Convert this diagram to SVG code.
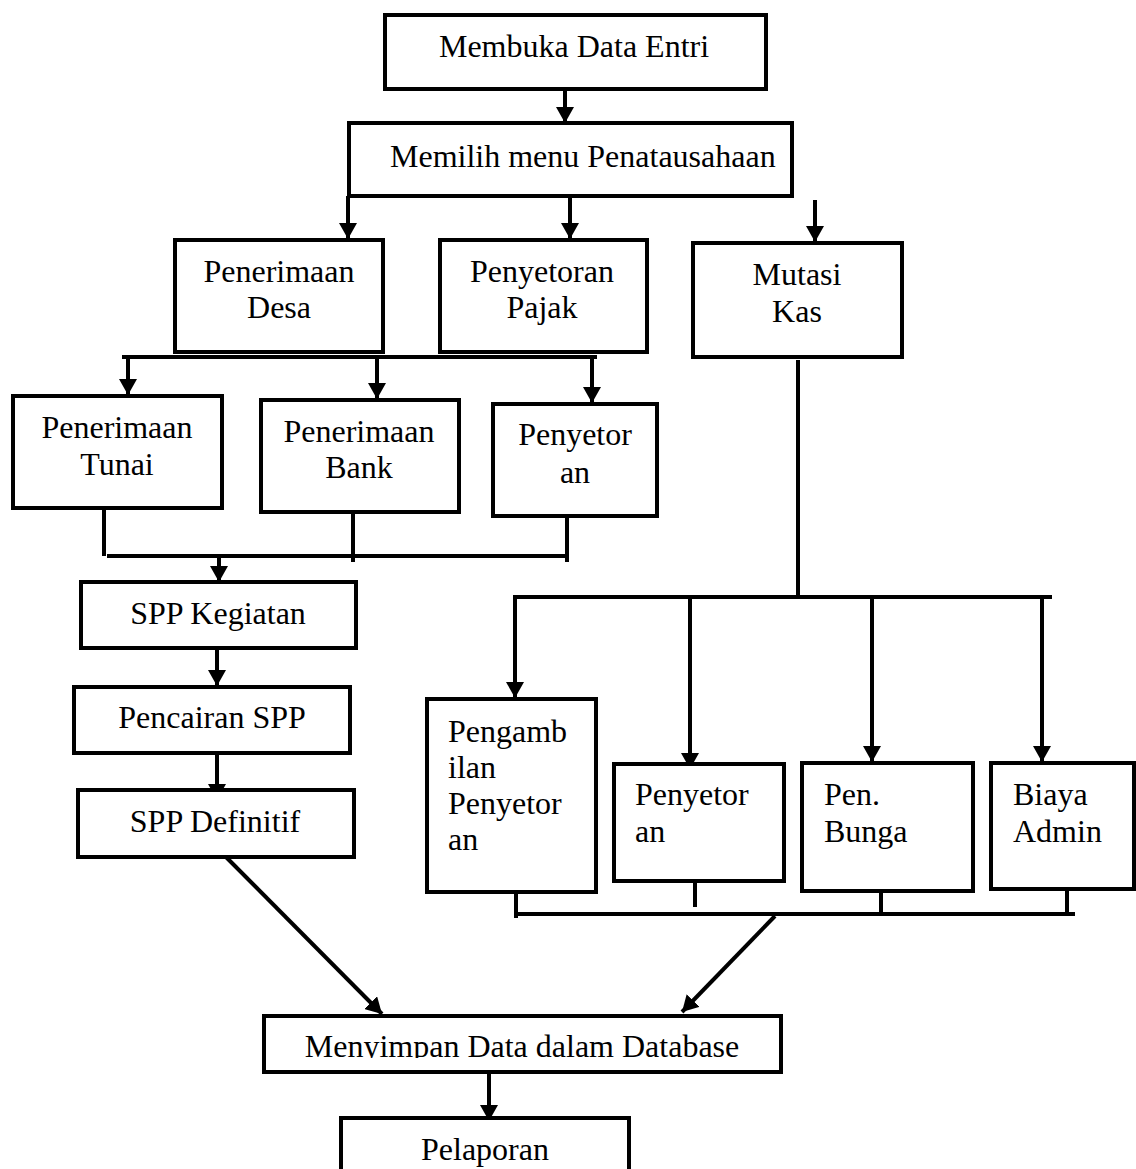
<svg xmlns="http://www.w3.org/2000/svg" width="1136" height="1169" viewBox="0 0 1136 1169">
<style>
.box{fill:#fff;stroke:#000;stroke-width:4}
.t{font-family:"Liberation Serif","Times New Roman",serif;font-size:32px;fill:#000}
.c{text-anchor:middle}
.ln{fill:none;stroke:#000;stroke-width:4}
</style>
<defs>
<marker id="ah" markerUnits="userSpaceOnUse" markerWidth="18" markerHeight="18" refX="16" refY="9" orient="auto" viewBox="0 0 18 18">
<path d="M0,0 L16,9 L0,18 z" fill="#000"/>
</marker>
<clipPath id="clipdb"><rect x="264" y="1016" width="517" height="42"/></clipPath>
</defs>
<rect width="1136" height="1169" fill="#fff"/>

<g id="connectors">
<line class="ln" x1="565" y1="89" x2="565" y2="123" marker-end="url(#ah)"/>
<line class="ln" x1="348" y1="196" x2="348" y2="239" marker-end="url(#ah)"/>
<line class="ln" x1="570" y1="196" x2="570" y2="239" marker-end="url(#ah)"/>
<line class="ln" x1="815" y1="200" x2="815" y2="242" marker-end="url(#ah)"/>
<polyline class="ln" points="122,357 597,357"/>
<line class="ln" x1="128" y1="357" x2="128" y2="395" marker-end="url(#ah)"/>
<line class="ln" x1="377" y1="357" x2="377" y2="399" marker-end="url(#ah)"/>
<line class="ln" x1="592" y1="357" x2="592" y2="403" marker-end="url(#ah)"/>
<line class="ln" x1="104" y1="508" x2="104" y2="556"/>
<line class="ln" x1="353" y1="512" x2="353" y2="562"/>
<line class="ln" x1="567" y1="516" x2="567" y2="562"/>
<line class="ln" x1="107" y1="556" x2="567" y2="556"/>
<line class="ln" x1="219" y1="556" x2="219" y2="582" marker-end="url(#ah)"/>
<line class="ln" x1="217" y1="640" x2="217" y2="686" marker-end="url(#ah)"/>
<line class="ln" x1="217" y1="753" x2="217" y2="800" marker-end="url(#ah)"/>
<line class="ln" x1="224" y1="855" x2="382" y2="1014" marker-end="url(#ah)"/>
<line class="ln" x1="798" y1="360" x2="798" y2="597"/>
<line class="ln" x1="513" y1="597" x2="1052" y2="597"/>
<line class="ln" x1="515" y1="597" x2="515" y2="698" marker-end="url(#ah)"/>
<line class="ln" x1="690" y1="597" x2="690" y2="769" marker-end="url(#ah)"/>
<line class="ln" x1="872" y1="597" x2="872" y2="762" marker-end="url(#ah)"/>
<line class="ln" x1="1042" y1="597" x2="1042" y2="762" marker-end="url(#ah)"/>
<line class="ln" x1="516" y1="892" x2="516" y2="918"/>
<line class="ln" x1="695" y1="874" x2="695" y2="907"/>
<line class="ln" x1="881" y1="891" x2="881" y2="914"/>
<line class="ln" x1="1067" y1="889" x2="1067" y2="914"/>
<line class="ln" x1="516" y1="914" x2="1075" y2="914"/>
<line class="ln" x1="775" y1="916" x2="682" y2="1012" marker-end="url(#ah)"/>
<line class="ln" x1="489" y1="1072" x2="489" y2="1121" marker-end="url(#ah)"/>
</g>

<g id="n-membuka">
<rect class="box" x="385" y="15" width="381" height="74"/>
<text class="t c" x="574" y="57">Membuka Data Entri</text>
</g>
<g id="n-memilih">
<rect class="box" x="349" y="123" width="443" height="73"/>
<text class="t" x="390" y="167">Memilih menu Penatausahaan</text>
</g>
<g id="n-penerimaan-desa">
<rect class="box" x="175" y="240" width="208" height="112"/>
<text class="t c" x="279" y="282">Penerimaan</text>
<text class="t c" x="279" y="318">Desa</text>
</g>
<g id="n-penyetoran-pajak">
<rect class="box" x="440" y="240" width="207" height="112"/>
<text class="t c" x="542" y="282">Penyetoran</text>
<text class="t c" x="542" y="318">Pajak</text>
</g>
<g id="n-mutasi-kas">
<rect class="box" x="693" y="243" width="209" height="114"/>
<text class="t c" x="797" y="285">Mutasi</text>
<text class="t c" x="797" y="322">Kas</text>
</g>
<g id="n-penerimaan-tunai">
<rect class="box" x="13" y="396" width="209" height="112"/>
<text class="t c" x="117" y="438">Penerimaan</text>
<text class="t c" x="117" y="475">Tunai</text>
</g>
<g id="n-penerimaan-bank">
<rect class="box" x="261" y="400" width="198" height="112"/>
<text class="t c" x="359" y="442">Penerimaan</text>
<text class="t c" x="359" y="478">Bank</text>
</g>
<g id="n-penyetoran-1">
<rect class="box" x="493" y="404" width="164" height="112"/>
<text class="t c" x="575" y="445">Penyetor</text>
<text class="t c" x="575" y="483">an</text>
</g>
<g id="n-spp-kegiatan">
<rect class="box" x="81" y="582" width="275" height="66"/>
<text class="t c" x="218" y="624">SPP Kegiatan</text>
</g>
<g id="n-pencairan-spp">
<rect class="box" x="74" y="687" width="276" height="66"/>
<text class="t c" x="212" y="728">Pencairan SPP</text>
</g>
<g id="n-spp-definitif">
<rect class="box" x="78" y="790" width="276" height="67"/>
<text class="t c" x="215" y="832">SPP Definitif</text>
</g>
<g id="n-pengambilan">
<rect class="box" x="427" y="699" width="169" height="193"/>
<text class="t" x="448" y="742">Pengamb</text>
<text class="t" x="448" y="778">ilan</text>
<text class="t" x="448" y="814">Penyetor</text>
<text class="t" x="448" y="850">an</text>
</g>
<g id="n-penyetoran-2">
<rect class="box" x="614" y="764" width="170" height="117"/>
<text class="t" x="635" y="805">Penyetor</text>
<text class="t" x="635" y="842">an</text>
</g>
<g id="n-pen-bunga">
<rect class="box" x="802" y="763" width="171" height="128"/>
<text class="t" x="824" y="805">Pen.</text>
<text class="t" x="824" y="842">Bunga</text>
</g>
<g id="n-biaya-admin">
<rect class="box" x="991" y="763" width="143" height="126"/>
<text class="t" x="1013" y="805">Biaya</text>
<text class="t" x="1013" y="842">Admin</text>
</g>
<g id="n-menyimpan">
<rect class="box" x="264" y="1016" width="517" height="56"/>
<text class="t c" x="522" y="1057" clip-path="url(#clipdb)">Menyimpan Data dalam Database</text>
</g>
<g id="n-pelaporan">
<rect class="box" x="341" y="1118" width="288" height="70"/>
<text class="t c" x="485" y="1160">Pelaporan</text>
</g>
</svg>
